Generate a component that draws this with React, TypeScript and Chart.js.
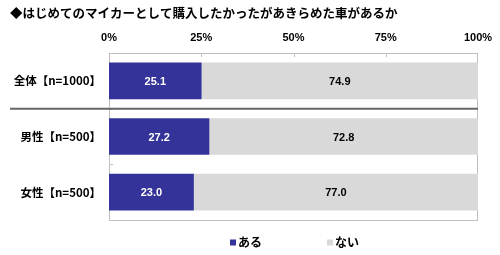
import React, { useEffect, useRef } from "react";
import { Chart, registerables } from "chart.js";

Chart.register(...registerables);

const TITLE = "◆はじめてのマイカーとして購入したかったがあきらめた車があるか";
const categories = ["全体【n=1000】", "男性【n=500】", "女性【n=500】"];
const seriesNames = ["ある", "ない"];
const yesValues = [25.1, 27.2, 23.0];
const noValues = [74.9, 72.8, 77.0];
const tickValues = [0, 25, 50, 75, 100];

const BLUE = "#333399";
const GRAY = "#d9d9d9";
const FRAME = "#bfbfbf";
const JP_FONT = "'Noto Sans CJK JP', 'Noto Sans', sans-serif";
const NUM_FONT = "'Liberation Sans', Arial, sans-serif";

const percent = (v: number) => `${v}%`;

// Plot frame, inward tick marks and the separator below the total row
const framePlugin = {
  id: "frame",
  beforeDatasetsDraw(chart: any) {
    const { ctx, chartArea: a, scales } = chart;
    ctx.save();
    ctx.strokeStyle = FRAME;
    ctx.lineWidth = 1;
    ctx.strokeRect(Math.round(a.left) + 0.5, Math.round(a.top) + 0.5, Math.round(a.right - a.left) - 1, Math.round(a.bottom - a.top));
    ctx.beginPath();
    tickValues.slice(1, -1).forEach((v) => {
      const x = Math.round(scales.x.getPixelForValue(v)) + 0.5;
      ctx.moveTo(x, a.top);
      ctx.lineTo(x, a.top + 4);
    });
    for (let i = 0; i < categories.length - 1; i++) {
      const y = Math.round((scales.y.getPixelForValue(i) + scales.y.getPixelForValue(i + 1)) / 2) + 0.5;
      ctx.moveTo(a.left, y);
      ctx.lineTo(a.left + 4, y);
    }
    ctx.stroke();

    // percentage labels above the plot, one per tick of the value scale
    ctx.fillStyle = "#000000";
    ctx.font = `bold 11px ${NUM_FONT}`;
    ctx.textAlign = "center";
    ctx.textBaseline = "middle";
    scales.x.ticks.forEach((t: any) => {
      ctx.fillText(percent(t.value), scales.x.getPixelForValue(t.value), a.top - 15);
    });
    ctx.restore();
  },
  afterDatasetsDraw(chart: any) {
    const { ctx, chartArea: a, scales } = chart;
    const y = (scales.y.getPixelForValue(0) + scales.y.getPixelForValue(1)) / 2;
    ctx.save();
    ctx.strokeStyle = "#666666";
    ctx.lineWidth = 2;
    ctx.beginPath();
    ctx.moveTo(10, y);
    ctx.lineTo(a.right, y);
    ctx.stroke();
    ctx.restore();
  },
};

// Values printed in the middle of each segment
const valueLabelPlugin = {
  id: "valueLabels",
  afterDatasetsDraw(chart: any) {
    const { ctx } = chart;
    ctx.save();
    ctx.font = `bold 11px ${NUM_FONT}`;
    ctx.textAlign = "center";
    ctx.textBaseline = "middle";
    chart.data.datasets.forEach((ds: any, di: number) => {
      const meta = chart.getDatasetMeta(di);
      meta.data.forEach((bar: any, i: number) => {
        ctx.fillStyle = di === 0 ? "#ffffff" : "#000000";
        ctx.fillText(Number(ds.data[i]).toFixed(1), (bar.x + bar.base) / 2, bar.y + 1);
      });
    });
    ctx.restore();
  },
};

// Legend row under the plot, with wide spacing between entries
const legendPlugin = {
  id: "wideLegend",
  afterDraw(chart: any) {
    const { ctx } = chart;
    const starts = [230, 327];
    const y = 242.5;
    ctx.save();
    ctx.font = `bold 12px ${JP_FONT}`;
    ctx.textBaseline = "middle";
    ctx.textAlign = "left";
    chart.data.datasets.forEach((ds: any, i: number) => {
      const x = starts[i];
      ctx.fillStyle = ds.backgroundColor;
      ctx.fillRect(x, y - 3, 6, 6);
      ctx.fillStyle = "#000000";
      ctx.fillText(ds.label, x + 8, y);
    });
    ctx.restore();
  },
};

export default function App() {
  const canvasRef = useRef<HTMLCanvasElement | null>(null);

  useEffect(() => {
    if (!canvasRef.current) return;
    const chart = new Chart(canvasRef.current, {
      type: "bar",
      data: {
        labels: categories,
        datasets: [
          { label: seriesNames[0], data: yesValues, backgroundColor: BLUE, categoryPercentage: 1, barPercentage: 0.66 },
          { label: seriesNames[1], data: noValues, backgroundColor: GRAY, categoryPercentage: 1, barPercentage: 0.66 },
        ],
      },
      options: {
        indexAxis: "y",
        animation: false,
        responsive: false,
        maintainAspectRatio: false,
        layout: { padding: { left: 10, right: 22, top: 0, bottom: 35 } },
        plugins: {
          legend: { display: false },
          tooltip: { enabled: false },
          title: {
            display: true,
            text: TITLE,
            align: "start",
            color: "#000000",
            font: { family: JP_FONT, size: 12.5, weight: "bold" },
            padding: { top: 6, bottom: 0 },
          },
        },
        scales: {
          x: {
            position: "top",
            stacked: true,
            min: 0,
            max: 100,
            afterFit: (s: any) => {
              s.height = 32;
            },
            afterBuildTicks: (s: any) => {
              s.ticks = tickValues.map((v) => ({ value: v }));
            },
            ticks: { display: false },
            grid: { display: false },
            border: { display: false },
          },
          y: {
            stacked: true,
            afterFit: (s: any) => {
              s.width = 99;
            },
            ticks: {
              padding: 0,
              color: "#000000",
              font: { family: JP_FONT, size: 11.5, weight: "bold" },
            },
            grid: { display: false },
            border: { display: false },
          },
        },
      },
      plugins: [framePlugin, valueLabelPlugin, legendPlugin],
    });
    return () => chart.destroy();
  }, []);

  return (
    <div style={{ position: "fixed", left: 0, top: 0, width: 500, height: 255, background: "#ffffff" }}>
      <canvas ref={canvasRef} width={500} height={255} style={{ width: 500, height: 255, display: "block" }} />
    </div>
  );
}
